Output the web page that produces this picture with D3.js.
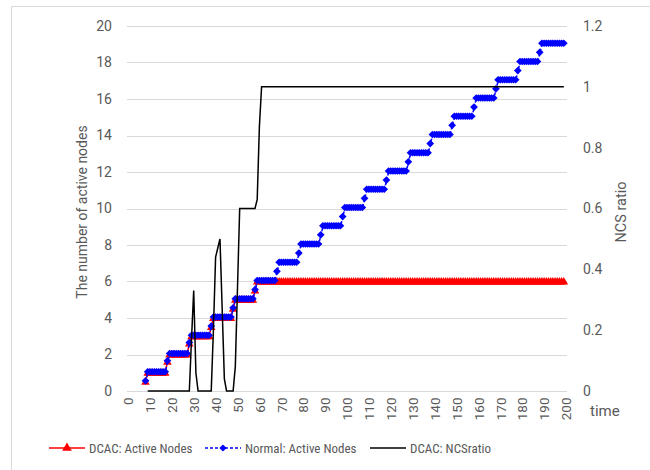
<!DOCTYPE html>
<html>
<head>
<meta charset="utf-8">
<script src="https://cdn.jsdelivr.net/npm/d3@7"></script>
<style>
  body { margin: 0; background: #fff; }
  svg text { font-family: Roboto, "Open Sans", sans-serif; fill: #595959; }
  svg text.narrow { font-family: "Liberation Sans Narrow", "Roboto Condensed", Roboto, sans-serif; }
</style>
</head>
<body>
<div id="viz"></div>
<script>
// time runs 8..199 for the node series, 9..199 for the NCS ratio
const nodesStart = 8;
const ncsStart = 9;

// Normal: Active Nodes (one value per time unit, from t=8)
const normalNodes = [
  0.5, 1, 1, 1, 1, 1, 1, 1, 1, 1,
  1.6, 2, 2, 2, 2, 2, 2, 2, 2, 2,
  2.6, 3, 3, 3, 3, 3, 3, 3, 3, 3,
  3.5, 4, 4, 4, 4, 4, 4, 4, 4, 4,
  4.5, 5, 5, 5, 5, 5, 5, 5, 5, 5,
  5.5, 6, 6, 6, 6, 6, 6, 6, 6, 6,
  6.5, 7, 7, 7, 7, 7, 7, 7, 7, 7,
  7.5, 8, 8, 8, 8, 8, 8, 8, 8, 8,
  8.5, 9, 9, 9, 9, 9, 9, 9, 9, 9,
  9.5, 10, 10, 10, 10, 10, 10, 10, 10, 10,
  10.5, 11, 11, 11, 11, 11, 11, 11, 11, 11,
  11.5, 12, 12, 12, 12, 12, 12, 12, 12, 12,
  12.5, 13, 13, 13, 13, 13, 13, 13, 13, 13,
  13.5, 14, 14, 14, 14, 14, 14, 14, 14, 14,
  14.5, 15, 15, 15, 15, 15, 15, 15, 15, 15,
  15.5, 16, 16, 16, 16, 16, 16, 16, 16, 16,
  16.5, 17, 17, 17, 17, 17, 17, 17, 17, 17,
  17.5, 18, 18, 18, 18, 18, 18, 18, 18, 18,
  18.5, 19, 19, 19, 19, 19, 19, 19, 19, 19,
  19, 19
];

// DCAC: Active Nodes (from t=8)
const dcacNodes = [
  0.5, 1, 1, 1, 1, 1, 1, 1, 1, 1,
  1.6, 2, 2, 2, 2, 2, 2, 2, 2, 2,
  2.6, 3, 3, 3, 3, 3, 3, 3, 3, 3,
  3.5, 4, 4, 4, 4, 4, 4, 4, 4, 4,
  4.5, 5, 5, 5, 5, 5, 5, 5, 5, 5,
  5.5, 6, 6, 6, 6, 6, 6, 6, 6, 6,
  6, 6, 6, 6, 6, 6, 6, 6, 6, 6,
  6, 6, 6, 6, 6, 6, 6, 6, 6, 6,
  6, 6, 6, 6, 6, 6, 6, 6, 6, 6,
  6, 6, 6, 6, 6, 6, 6, 6, 6, 6,
  6, 6, 6, 6, 6, 6, 6, 6, 6, 6,
  6, 6, 6, 6, 6, 6, 6, 6, 6, 6,
  6, 6, 6, 6, 6, 6, 6, 6, 6, 6,
  6, 6, 6, 6, 6, 6, 6, 6, 6, 6,
  6, 6, 6, 6, 6, 6, 6, 6, 6, 6,
  6, 6, 6, 6, 6, 6, 6, 6, 6, 6,
  6, 6, 6, 6, 6, 6, 6, 6, 6, 6,
  6, 6, 6, 6, 6, 6, 6, 6, 6, 6,
  6, 6, 6, 6, 6, 6, 6, 6, 6, 6,
  6, 6
];

// DCAC: NCSratio (right axis, from t=9)
const ncsRatio = [
  0, 0, 0, 0, 0, 0, 0, 0, 0, 0,
  0, 0, 0, 0, 0, 0, 0, 0, 0, 0,
  0.17, 0.33, 0.06, 0, 0, 0, 0, 0, 0, 0,
  0.2, 0.44, 0.47, 0.5, 0.27, 0.04, 0, 0, 0, 0,
  0.08, 0.34, 0.6, 0.6, 0.6, 0.6, 0.6, 0.6, 0.6, 0.6,
  0.63, 0.87, 1, 1, 1, 1, 1, 1, 1, 1,
  1, 1, 1, 1, 1, 1, 1, 1, 1, 1,
  1, 1, 1, 1, 1, 1, 1, 1, 1, 1,
  1, 1, 1, 1, 1, 1, 1, 1, 1, 1,
  1, 1, 1, 1, 1, 1, 1, 1, 1, 1,
  1, 1, 1, 1, 1, 1, 1, 1, 1, 1,
  1, 1, 1, 1, 1, 1, 1, 1, 1, 1,
  1, 1, 1, 1, 1, 1, 1, 1, 1, 1,
  1, 1, 1, 1, 1, 1, 1, 1, 1, 1,
  1, 1, 1, 1, 1, 1, 1, 1, 1, 1,
  1, 1, 1, 1, 1, 1, 1, 1, 1, 1,
  1, 1, 1, 1, 1, 1, 1, 1, 1, 1,
  1, 1, 1, 1, 1, 1, 1, 1, 1, 1,
  1, 1, 1, 1, 1, 1, 1, 1, 1, 1,
  1
];

const xTicks = d3.range(0, 201, 10);
const leftTicks = [0, 2, 4, 6, 8, 10, 12, 14, 16, 18, 20];
const rightTicks = [0, 0.2, 0.4, 0.6, 0.8, 1, 1.2];

const legendItems = [
  {label: "DCAC: Active Nodes", color: "#ff0000", dash: null, marker: "triangle"},
  {label: "Normal: Active Nodes", color: "#0000ff", dash: "3,2", marker: "diamond"},
  {label: "DCAC: NCSratio", color: "#000000", dash: null, marker: null}
];

const W = 650, H = 470;
const margin = {left: 127, right: 83, top: 26, bottom: 79};
const width = W - margin.left - margin.right;
const height = H - margin.top - margin.bottom;

const svg = d3.select("#viz").append("svg")
    .attr("width", W)
    .attr("height", H);

// outer chart frame
svg.append("rect")
    .attr("x", 11.5).attr("y", 6.5)
    .attr("width", W).attr("height", H)
    .attr("fill", "none")
    .attr("stroke", "#d9d9d9");

const g = svg.append("g")
    .attr("transform", "translate(" + margin.left + "," + margin.top + ")");

const xScale = d3.scaleLinear().domain([0, 200]).range([1, width - 1]);
const yLeft = d3.scaleLinear().domain([0, 20]).range([height, 0]);
const yRight = d3.scaleLinear().domain([0, 1.2]).range([height, 0]);

// gridlines
g.append("g")
  .selectAll("line")
  .data(leftTicks.slice(1))
  .join("line")
    .attr("x1", 0).attr("x2", width)
    .attr("y1", d => Math.round(yLeft(d)) + 0.5)
    .attr("y2", d => Math.round(yLeft(d)) + 0.5)
    .attr("stroke", "#d9d9d9");

// x axis
const xAxis = d3.axisBottom(xScale).tickValues(xTicks).tickSize(0).tickPadding(0);
const xAxisG = g.append("g")
    .attr("transform", "translate(0," + (Math.round(height) + 0.5) + ")")
    .call(xAxis);
xAxisG.select(".domain").attr("stroke", "#d9d9d9").attr("d", "M0,0H" + width);
xAxisG.selectAll("text")
    .attr("font-size", 13.5)
    .attr("text-anchor", "end")
    .attr("dy", "0.35em")
    .attr("transform", "translate(0,6) rotate(-90)")
    .attr("x", 0).attr("y", 0);

// left axis
const yAxisL = d3.axisLeft(yLeft).tickValues(leftTicks).tickSize(0).tickPadding(15);
const yAxisLG = g.append("g").call(yAxisL);
yAxisLG.select(".domain").remove();
yAxisLG.selectAll("text").attr("font-size", 14);

// right axis
const yAxisR = d3.axisRight(yRight).tickValues(rightTicks).tickSize(0).tickPadding(16)
    .tickFormat(d => d3.format("~g")(d));
const yAxisRG = g.append("g").attr("transform", "translate(" + width + ",0)").call(yAxisR);
yAxisRG.select(".domain").remove();
yAxisRG.selectAll("text").attr("font-size", 14);

// axis titles
svg.append("text")
    .attr("transform", "translate(87,212) rotate(-90)")
    .attr("text-anchor", "middle")
    .attr("font-size", 14)
    .text("The number of active nodes");
svg.append("text")
    .attr("transform", "translate(626,212) rotate(-90)")
    .attr("text-anchor", "middle")
    .attr("font-size", 14.5)
    .text("NCS ratio");
svg.append("text")
    .attr("x", 590).attr("y", 416)
    .attr("font-size", 15)
    .text("time");

// series data
const dcacData = dcacNodes.map((v, i) => ({t: nodesStart + i, v: v}));
const normalData = normalNodes.map((v, i) => ({t: nodesStart + i, v: v}));
const ncsData = ncsRatio.map((v, i) => ({t: ncsStart + i, v: v}));

const lineLeft = d3.line().x(d => xScale(d.t)).y(d => yLeft(d.v));
const lineRight = d3.line().x(d => xScale(d.t)).y(d => yRight(d.v));

const triangle = d3.symbol(d3.symbolTriangle, 32)();
const diamond = d3.symbol(d3.symbolSquare, 30)();

// DCAC active nodes (red)
g.append("path").datum(dcacData)
    .attr("d", lineLeft)
    .attr("fill", "none")
    .attr("stroke", "#ff0000")
    .attr("stroke-width", 1.5);
g.append("g").selectAll("path")
  .data(dcacData)
  .join("path")
    .attr("d", triangle)
    .attr("transform", d => "translate(" + xScale(d.t) + "," + (yLeft(d.v) + 0.5) + ")")
    .attr("fill", "#ff0000");

// Normal active nodes (blue)
g.append("path").datum(normalData)
    .attr("d", lineLeft)
    .attr("fill", "none")
    .attr("stroke", "#0000ff")
    .attr("stroke-width", 1.5)
    .attr("stroke-dasharray", "3,2");
g.append("g").selectAll("path")
  .data(normalData)
  .join("path")
    .attr("d", diamond)
    .attr("transform", d => "translate(" + xScale(d.t) + "," + (yLeft(d.v) - 1) + ") rotate(45)")
    .attr("fill", "#0000ff");

// DCAC NCS ratio (black, right axis)
g.append("path").datum(ncsData)
    .attr("d", lineRight)
    .attr("fill", "none")
    .attr("stroke", "#000000")
    .attr("stroke-width", 1.5);

// legend
const legendX = [49, 205, 370];
const legend = svg.append("g").attr("transform", "translate(0,448)");
legendItems.forEach((item, i) => {
  const lg = legend.append("g").attr("transform", "translate(" + legendX[i] + ",0)");
  lg.append("line")
      .attr("x1", 0).attr("x2", 36)
      .attr("y1", 0).attr("y2", 0)
      .attr("stroke", item.color)
      .attr("stroke-width", 1.5)
      .attr("stroke-dasharray", item.dash);
  if (item.marker === "triangle") {
    lg.append("path").attr("d", d3.symbol(d3.symbolTriangle, 40)()).attr("transform", "translate(18,0)").attr("fill", item.color);
  } else if (item.marker === "diamond") {
    lg.append("path").attr("d", d3.symbol(d3.symbolSquare, 26)()).attr("transform", "translate(18,0) rotate(45)").attr("fill", item.color);
  }
  lg.append("text")
      .attr("class", "narrow")
      .attr("x", 40).attr("y", 0)
      .attr("dy", "0.35em")
      .attr("font-size", 13)
      .text(item.label);
});
</script>
</body>
</html>
